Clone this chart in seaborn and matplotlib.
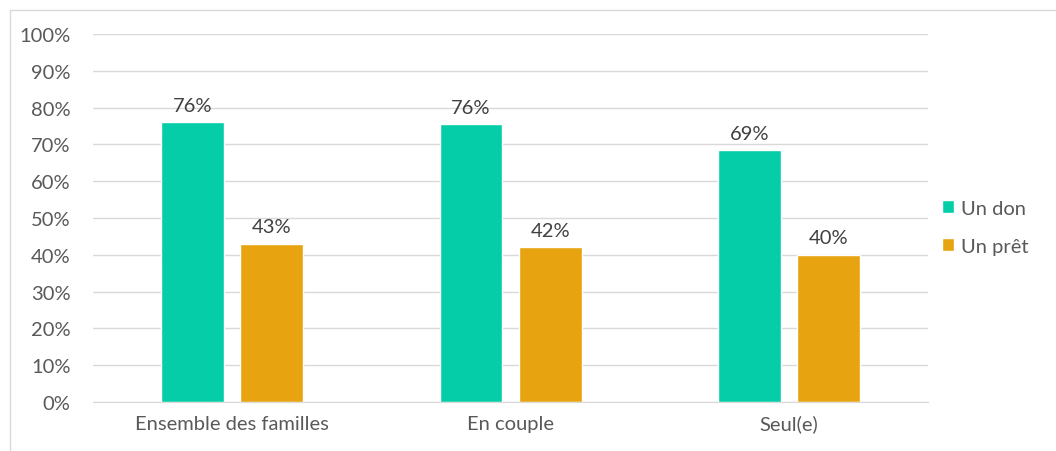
import matplotlib
matplotlib.use("Agg")
import matplotlib.pyplot as plt
import pandas as pd
import seaborn as sns
from matplotlib.lines import Line2D

categories = ["Ensemble des familles", "En couple", "Seul(e)"]
series = ["Un don", "Un prêt"]
don = [0.76, 0.755, 0.685]
pret = [0.43, 0.42, 0.40]
labels_don = ["76%", "76%", "69%"]
labels_pret = ["43%", "42%", "40%"]
colors = ["#05CDA8", "#E8A311"]

df = pd.DataFrame({
    "cat": categories * 2,
    "serie": [series[0]] * 3 + [series[1]] * 3,
    "val": don + pret,
})

sns.set_style("white")
plt.rcParams["font.family"] = ["Lato", "DejaVu Sans"]
grey = "#595959"

fig = plt.figure(figsize=(10.56, 4.52), dpi=100)
ax = fig.add_axes([0.088, 0.1084, 0.791, 0.8142])
sns.barplot(data=df, x="cat", y="val", hue="serie", palette=colors,
            width=0.57, gap=0.21, saturation=1, ax=ax, legend=True)

for cont, labs in zip(ax.containers, [labels_don, labels_pret]):
    ax.bar_label(cont, labels=labs, padding=6, fontsize=14.5, color="#404040")

ax.set_ylim(0, 1)
ax.set_yticks([i / 10 for i in range(11)])
ax.set_yticklabels([f"{i * 10}%" for i in range(11)])
ax.set_xlim(-0.5, 2.5)
ax.yaxis.grid(True, color="#d9d9d9", linewidth=1)
ax.set_axisbelow(True)
for s in ["left", "right", "top"]:
    ax.spines[s].set_visible(False)
ax.spines["bottom"].set_color("#d9d9d9")
ax.tick_params(axis="both", colors=grey, labelsize=14.5, length=0)
ax.tick_params(axis="y", pad=16)
ax.tick_params(axis="x", pad=9)
ax.set_xlabel("")
ax.set_ylabel("")

leg = ax.legend(loc="center left", bbox_to_anchor=(1.0, 0.475), frameon=False,
                fontsize=14.5, handlelength=0.6, handleheight=0.6,
                handletextpad=0.35, labelspacing=1.05, borderaxespad=0.3)
for t in leg.get_texts():
    t.set_color(grey)

# outer chart frame (top and left edges visible)
fig.lines.append(Line2D([10 / 1056, 1], [441 / 452, 441 / 452],
                        transform=fig.transFigure, color="#d9d9d9", linewidth=1))
fig.lines.append(Line2D([10 / 1056, 10 / 1056], [0, 441 / 452],
                        transform=fig.transFigure, color="#d9d9d9", linewidth=1))

fig.savefig("out.png", dpi=100)
